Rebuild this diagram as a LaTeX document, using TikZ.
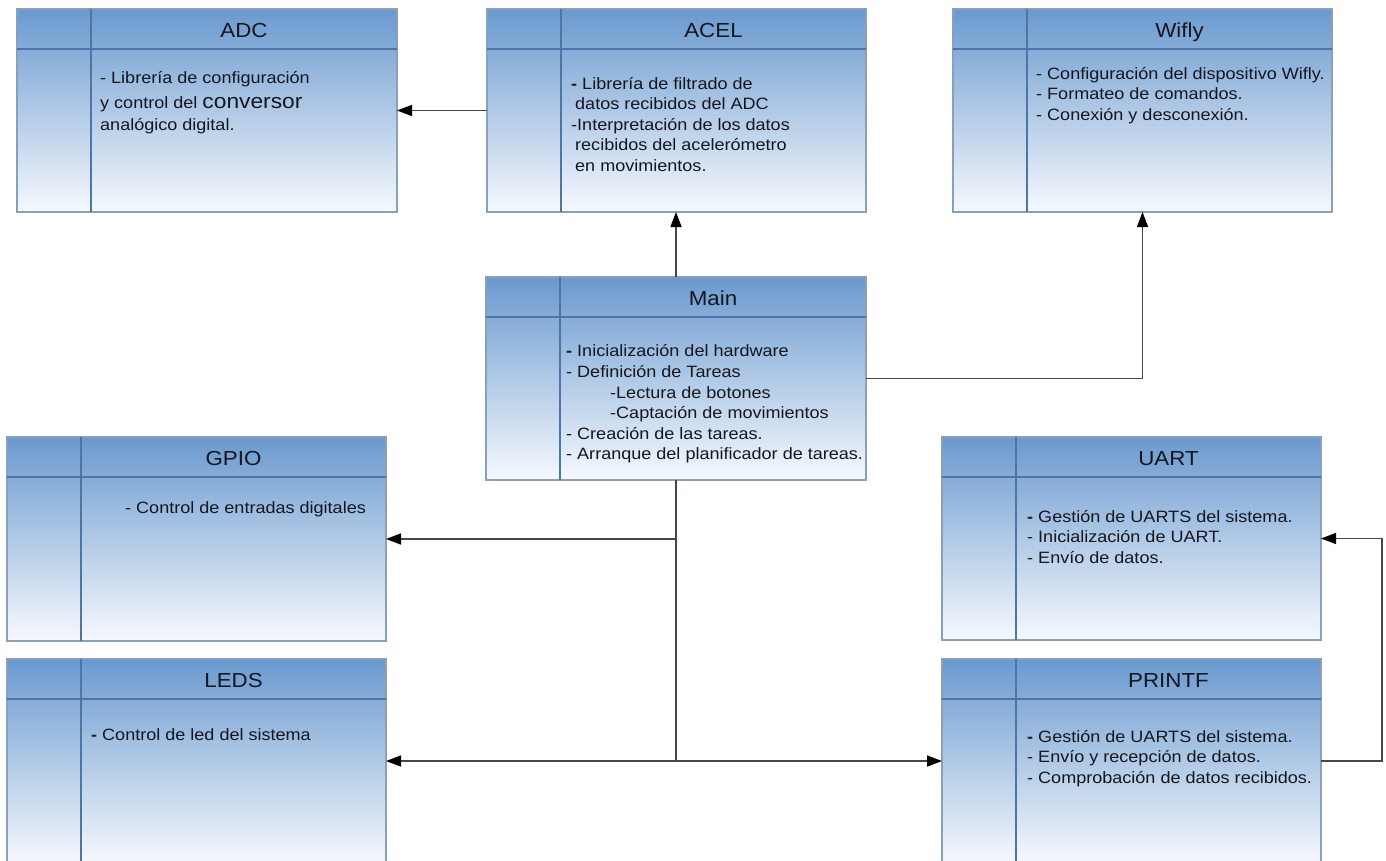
\documentclass[tikz,border=0pt]{standalone}
\usepackage{fontspec}
\setmainfont{Liberation Sans}[FakeStretch=1.1]
\usetikzlibrary{arrows.meta}
\definecolor{boxtop}{RGB}{106,153,207}
\definecolor{boxbot}{RGB}{246,249,253}
\definecolor{boxedge}{RGB}{138,160,186}
\definecolor{boxline}{RGB}{78,116,168}
\definecolor{wirecol}{RGB}{70,70,70}
\definecolor{ink}{RGB}{20,22,32}
\newcommand\bodystrut{\rule{0pt}{13pt}}
\tikzset{
  module/.style={rectangle, draw=boxedge, line width=1.2pt, top color=boxtop, bottom color=boxbot, inner sep=0pt, outer sep=0pt},
  sepline/.style={draw=boxline, line width=1.2pt},
  titletext/.style={anchor=base, text=ink, font=\fontsize{20.3}{24}\selectfont, inner sep=0pt},
  bodytext/.style={anchor=north west, align=left, text=ink, font=\fontsize{16.4}{20.5}\selectfont, inner sep=0pt},
  wire/.style={draw=wirecol, line width=1.4pt, -{Triangle[length=15pt,width=11pt,color=black]}},
}
% #1 name, #2 left, #3 top, #4 right, #5 bottom, #6 title
\newcommand\modbox[6]{%
  \node[module, minimum width={#4-#2}, minimum height={#5-#3}] (#1) at ({(#2+#4)/2},{-(#3+#5)/2}) {};
  \draw[sepline] ([xshift=74pt]#1.north west) -- ([xshift=74pt]#1.south west);
  \draw[sepline] ([yshift=-40pt]#1.north west) -- ([yshift=-40pt]#1.north east);
  \node[titletext] (#1-title) at ({(#2+74+#4)/2},{-(#3+28.3)}) {#6};
}
\begin{document}
\begin{tikzpicture}[x=1pt,y=1pt]
\useasboundingbox (0,0) rectangle (1386,-861);
\fill[white] (0,0) rectangle (1386,-861);
\clip (0,0) rectangle (1386,-861);

\modbox{adc}{17}{9}{397}{212}{ADC}
\modbox{acel}{487}{9}{866}{212}{ACEL}
\modbox{wifly}{953}{9}{1332}{212}{Wifly}
\modbox{main}{486}{277}{866}{480}{Main}
\modbox{gpio}{7}{437}{386}{641}{GPIO}
\modbox{uart}{942}{437}{1321}{640}{UART}
\modbox{leds}{7}{659}{386}{863}{LEDS}
\modbox{printf}{942}{659}{1321}{863}{PRINTF}

\node[bodytext] (adc-body) at (100,-70) {\bodystrut- Librería de configuración\\[4.5pt]
  y control del {\fontsize{20.7}{24}\selectfont conversor}\\[1.5pt]
  analógico digital.};
\node[bodytext] (acel-body) at (571,-76) {\bodystrut\textbf{-} Librería de filtrado de\\
  \hspace*{4pt}datos recibidos del ADC\\
  -Interpretación de los datos\\
  \hspace*{4pt}recibidos del acelerómetro\\
  \hspace*{4pt}en movimientos.};
\node[bodytext] (wifly-body) at (1036,-66) {\bodystrut- Configuración del dispositivo Wifly.\\
  - Formateo de comandos.\\
  - Conexión y desconexión.};
\node[bodytext] (main-body) at (566,-343) {\bodystrut\textbf{-} Inicialización del hardware\\[1pt]
  - Definición de Tareas\\
  \hspace*{44pt}-Lectura de botones\\
  \hspace*{44pt}-Captación de movimientos\\
  - Creación de las tareas.\\
  - Arranque del planificador de tareas.};
\node[bodytext] (gpio-body) at (125,-500) {\bodystrut- Control de entradas digitales};
\node[bodytext] (leds-body) at (91,-727) {\bodystrut\textbf{-} Control de led del sistema};
\node[bodytext] (uart-body) at (1027,-509) {\bodystrut\textbf{-} Gestión de UARTS del sistema.\\
  - Inicialización de UART.\\
  - Envío de datos.};
\node[bodytext] (printf-body) at (1027,-729) {\bodystrut\textbf{-} Gestión de UARTS del sistema.\\
  - Envío y recepción de datos.\\
  - Comprobación de datos recibidos.};

\draw[wire] (acel.west) -- (adc.east);
\draw[wire] (main.north) -- (main.north |- acel.south);
\draw[wire] (main.east) -| (wifly.south);
\draw[wire] (main.south) |- (gpio.east);
\draw[wire] (main.south) |- (leds.east);
\draw[wire] (main.south) |- (printf.west);
\draw[wire] (printf.east) -- ++(61,0) |- (uart.east);
\end{tikzpicture}
\end{document}
